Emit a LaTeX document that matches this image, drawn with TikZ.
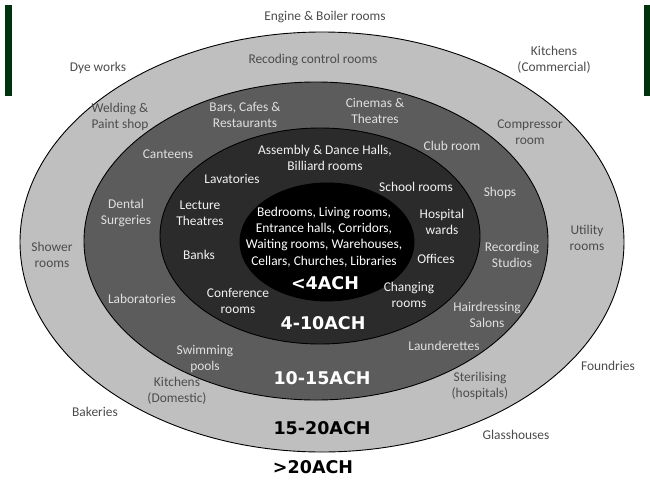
\documentclass[tikz,border=0pt]{standalone}
\usepackage{fontspec}
\setmainfont{Carlito}
\newfontfamily\achfont{DejaVu Sans}
\begin{document}
\begin{tikzpicture}[x=1pt,y=-1pt,
  lbl/.style={font=\fontsize{13.4}{16.4}\selectfont, align=center, inner sep=0pt},
  outtxt/.style={lbl, text=black!70},
  ringa/.style={lbl, text=black!70},
  ringb/.style={lbl, text=black!12},
  ringc/.style={lbl, text=black!5},
  ringd/.style={lbl, text=white},
  ach/.style={font=\achfont\bfseries\fontsize{17.5}{19}\selectfont, inner sep=0pt},
  ring/.style={draw=black, line width=0.9pt}]
\useasboundingbox (0,0) rectangle (650,479);
\fill[white] (0,0) rectangle (650,479);
% green bars
\fill[fill={rgb,255:red,0;green,50;blue,14}] (5,5) rectangle (12,96);
\fill[fill={rgb,255:red,0;green,50;blue,14}] (644,5) rectangle (650,96);
% rings
\draw[ring, fill=black!25] (322,242) ellipse [x radius=302pt, y radius=210pt];
\draw[ring, fill=black!64] (316,241) ellipse [x radius=232pt, y radius=159pt];
\draw[ring, fill=black!83] (320,236) ellipse [x radius=160pt, y radius=108pt];
\draw[ring, fill=black] (327,242) ellipse [x radius=87pt, y radius=59pt];
% outside
\node[outtxt] (engine) at (325,17) {Engine \& Boiler rooms};
\node[outtxt] (dye) at (98,68) {Dye works};
\node[outtxt] (kitcom) at (554,60) {Kitchens\\(Commercial)};
\node[outtxt] (foundries) at (608,366) {Foundries};
\node[outtxt] (bakeries) at (95,412) {Bakeries};
\node[outtxt] (glass) at (516,435) {Glasshouses};
% outer ring
\node[ringa] (recoding) at (313,60) {Recoding control rooms};
\node[ringa] (welding) at (120,117) {Welding \&\\Paint shop};
\node[ringa] (compressor) at (530,132) {Compressor\\room};
\node[ringa] (utility) at (587,238) {Utility\\rooms};
\node[ringa] (shower) at (52,255) {Shower\\rooms};
\node[ringa] (kitdom) at (177,391) {Kitchens\\(Domestic)};
\node[ringa] (steril) at (480,386) {Sterilising\\(hospitals)};
% second ring
\node[ringb] (bars) at (245,115) {Bars, Cafes \&\\Restaurants};
\node[ringb] (cinemas) at (375,111) {Cinemas \&\\Theatres};
\node[ringb] (canteens) at (168,154) {Canteens};
\node[ringb] (club) at (452,146) {Club room};
\node[ringb] (shops) at (500,193) {Shops};
\node[ringb] (dental) at (126,213) {Dental\\Surgeries};
\node[ringb] (recstudio) at (512,255) {Recording\\Studios};
\node[ringb] (labs) at (142,299) {Laboratories};
\node[ringb] (hair) at (487,315) {Hairdressing\\Salons};
\node[ringb] (laund) at (444,346) {Launderettes};
\node[ringb] (swim) at (205,359) {Swimming\\pools};
% third ring
\node[ringc] (assembly) at (325,158) {Assembly \& Dance Halls,\\Billiard rooms};
\node[ringc] (lav) at (232,179) {Lavatories};
\node[ringc] (school) at (416,187) {School rooms};
\node[ringc] (lecture) at (200,213) {Lecture\\Theatres};
\node[ringc] (hospital) at (442,222) {Hospital\\wards};
\node[ringc] (banks) at (199,255) {Banks};
\node[ringc] (offices) at (436,259) {Offices};
\node[ringc] (conf) at (238,301) {Conference\\rooms};
\node[ringc] (changing) at (409,295) {Changing\\rooms};
% inner
\node[ringd] (inner) at (324,237) {Bedrooms, Living rooms,\\Entrance halls, Corridors,\\Waiting rooms, Warehouses,\\Cellars, Churches, Libraries};
% ACH labels
\node[ach, text=white] (a4) at (325,283) {<4ACH};
\node[ach, text=white] (a410) at (323,323) {4-10ACH};
\node[ach, text=white] (a1015) at (322,378) {10-15ACH};
\node[ach, text=black] (a1520) at (322,428) {15-20ACH};
\node[ach, text=black] (a20) at (313,467) {>20ACH};
\end{tikzpicture}
\end{document}
